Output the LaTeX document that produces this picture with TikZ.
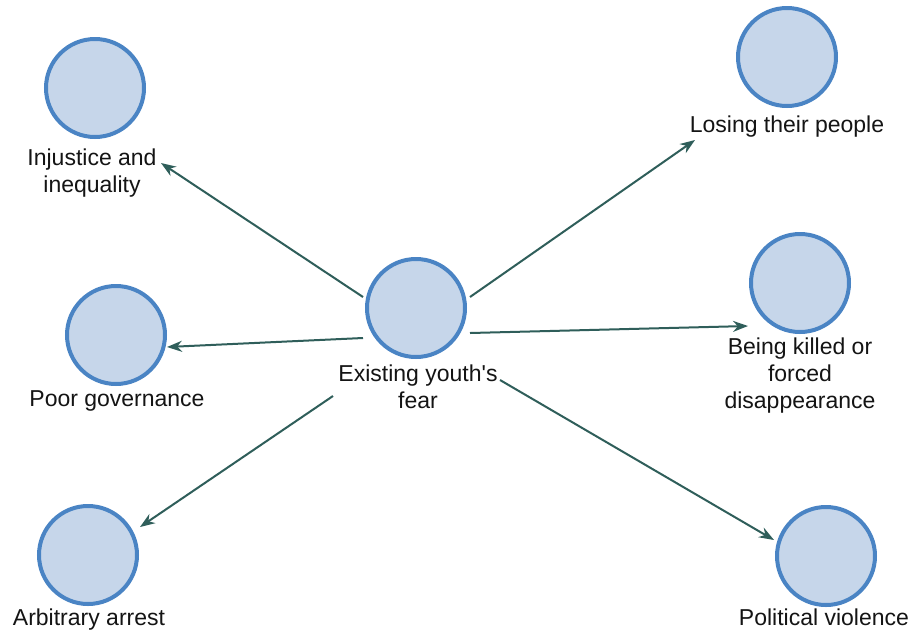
\documentclass[tikz,border=0pt]{standalone}
\usepackage{fontspec}
\setmainfont{Liberation Sans}
\usetikzlibrary{arrows.meta,calc}
\definecolor{ringblue}{HTML}{4A84C4}
\definecolor{ringfill}{HTML}{C6D6EA}
\definecolor{arrowteal}{HTML}{2F5E5A}
\definecolor{labelink}{HTML}{141414}
\begin{document}
\begin{tikzpicture}[x=1pt,y=1pt,
  concept/.style={circle,draw=ringblue,fill=ringfill,line width=4pt,minimum size=98pt,inner sep=0pt},
  caption/.style={anchor=base,align=center,text=labelink,inner sep=0pt,font=\fontsize{23}{27}\selectfont},
  link/.style={draw=arrowteal,line width=2pt,-{Stealth[length=15pt,width=11pt]}}]
  % canvas
  \fill[white] (0,0) rectangle (916,-633);
  \useasboundingbox (0,0) rectangle (916,-633);

  % concept circles
  \node[concept] (c)   at (416,-308) {};
  \node[concept] (inj) at (95,-88)   {};
  \node[concept] (gov) at (116,-335) {};
  \node[concept] (arr) at (88,-555)  {};
  \node[concept] (los) at (787,-57)  {};
  \node[concept] (kil) at (800,-283) {};
  \node[concept] (pol) at (826,-556) {};

  % captions (base anchor sits on the last line)
  \node[caption] (cT)   at (418,-408) {Existing youth\textquotesingle s\\fear};
  \node[caption] (injT) at (92,-192)  {Injustice and\\inequality};
  \node[caption] (govT) at (117,-406) {Poor governance};
  \node[caption] (arrT) at (89,-625)  {Arbitrary arrest};
  \node[caption] (losT) at (787,-132) {Losing their people};
  \node[caption] (kilT) at (800,-408) {Being killed or\\forced\\disappearance};
  \node[caption] (polT) at (824,-625) {Political violence};

  % connectors from the central fear outwards
  \draw[link] ($(c)+(-53,11)$)  -- ($(inj)+(66,-75)$);
  \draw[link] ($(c)+(-53,-30)$) -- ($(gov)+(51,-12)$);
  \draw[link] ($(c)+(-83,-88)$) -- ($(arr)+(52,28)$);
  \draw[link] ($(c)+(54,11)$)   -- ($(los)+(-92,-83)$);
  \draw[link] ($(c)+(54,-25)$)  -- ($(kil)+(-52,-43)$);
  \draw[link] ($(c)+(84,-72)$)  -- ($(pol)+(-52,16)$);
\end{tikzpicture}
\end{document}
